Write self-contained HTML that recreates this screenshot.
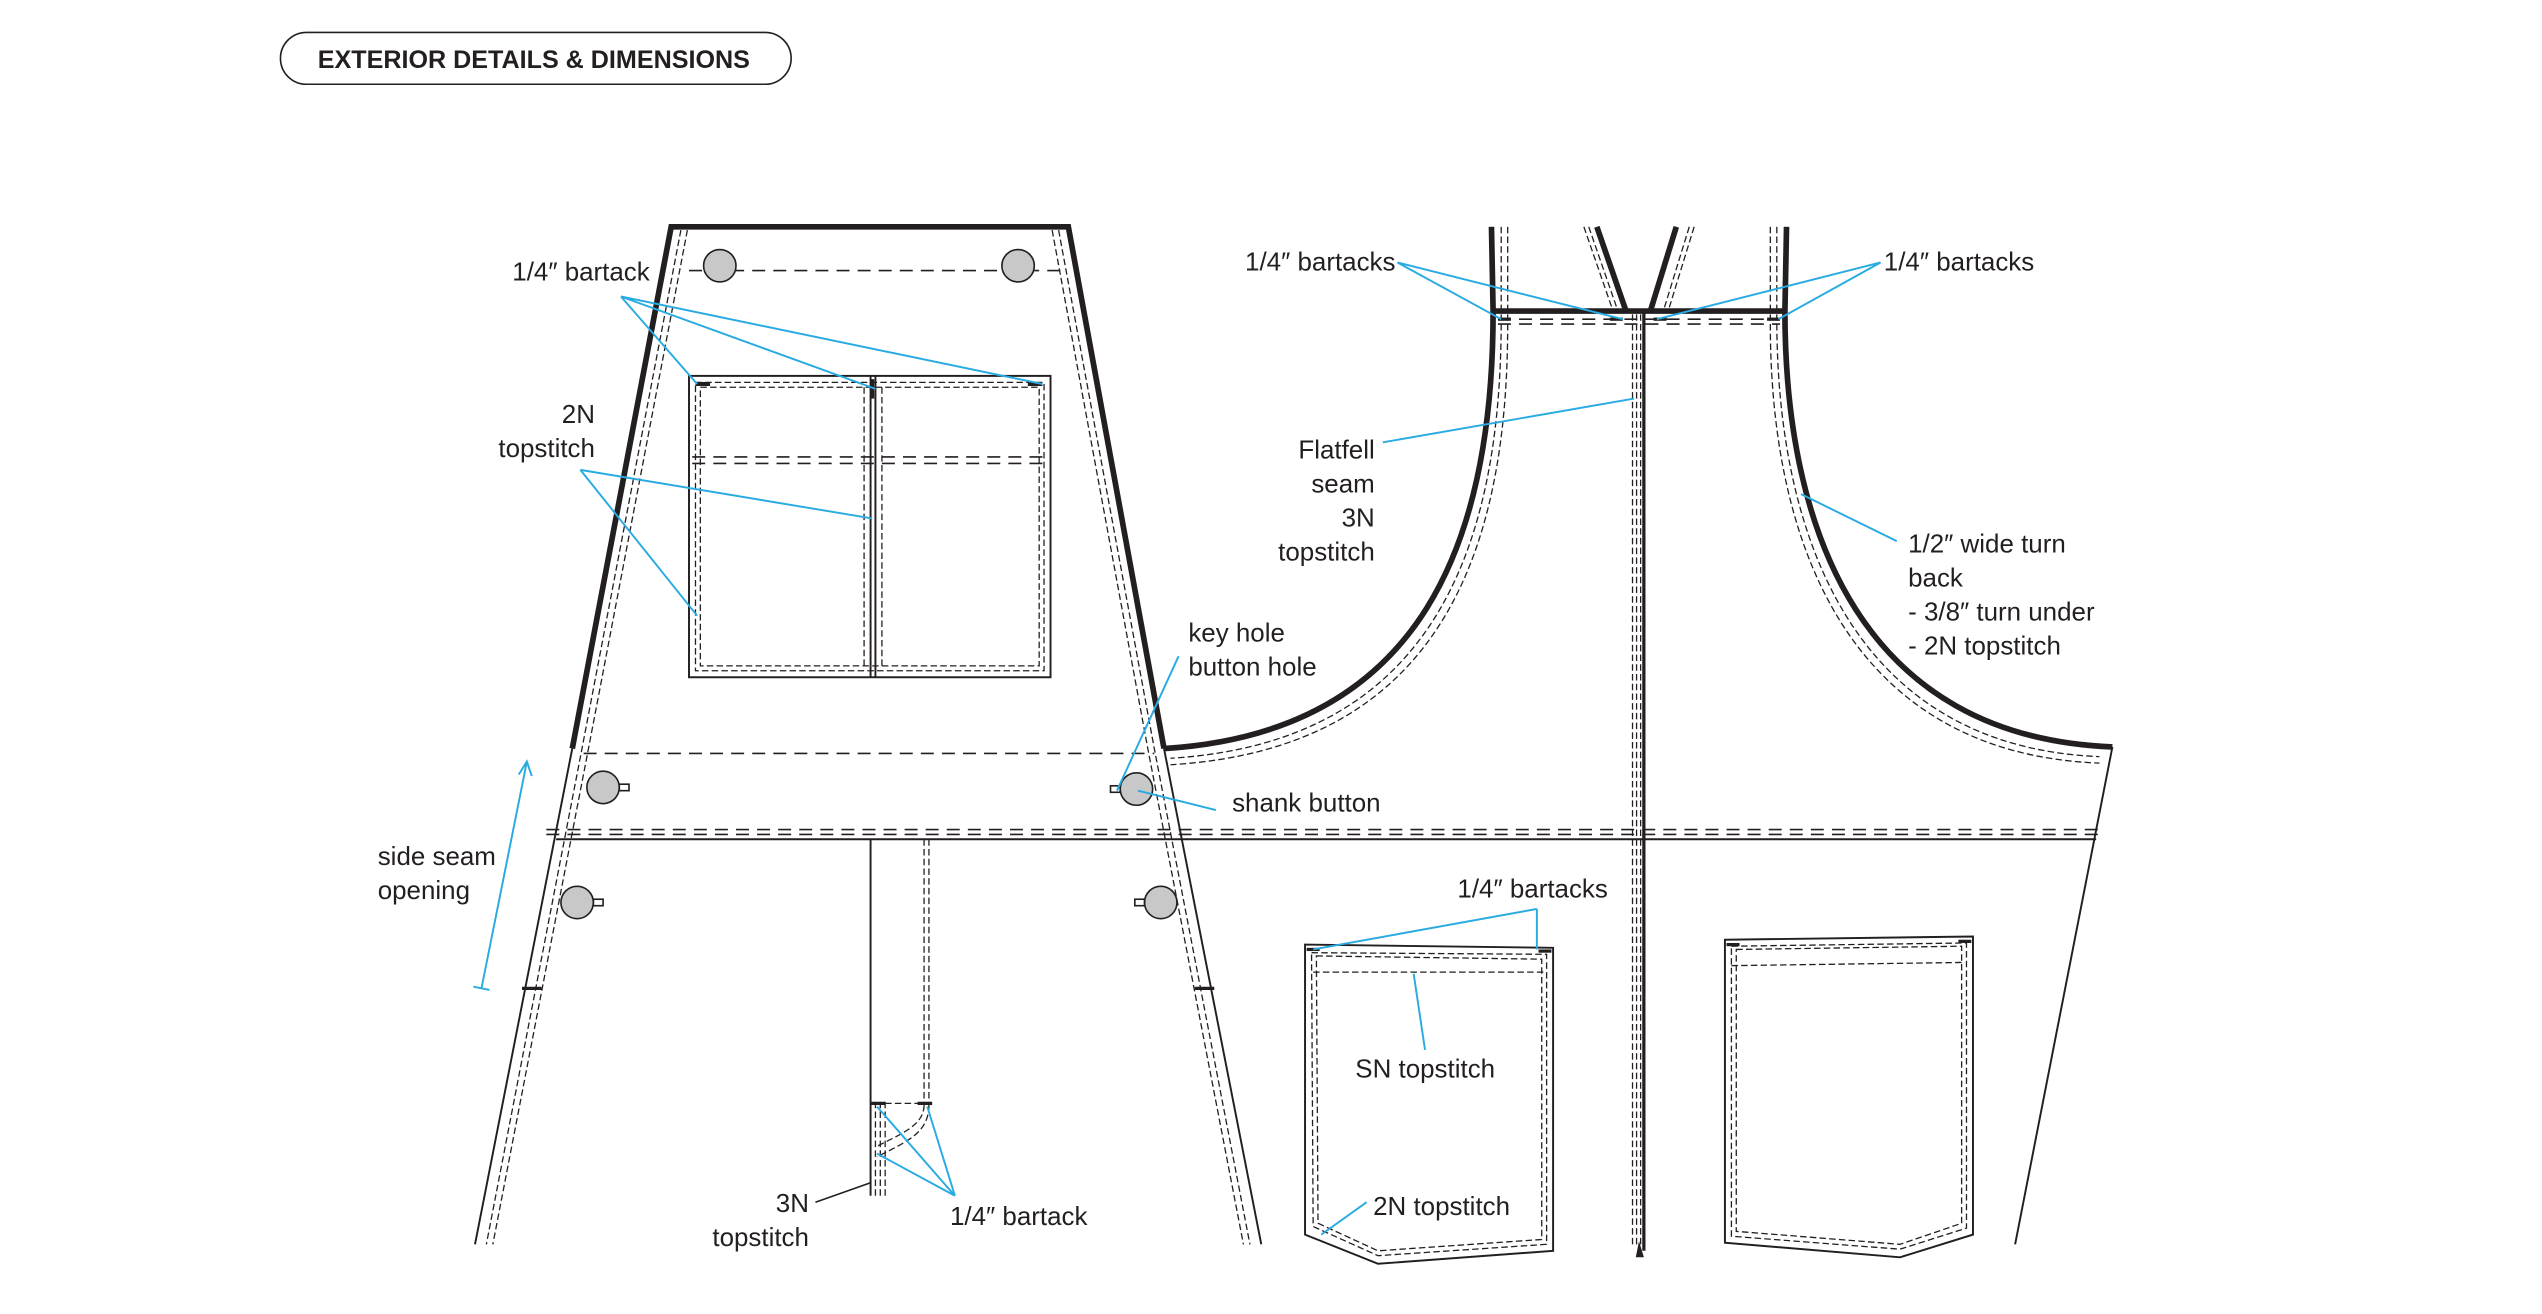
<!DOCTYPE html>
<html><head><meta charset="utf-8"><style>
html,body{margin:0;padding:0;background:#fff;}
svg{display:block;}
text{font-family:"Liberation Sans",sans-serif;font-size:16px;fill:#231f20;}
.k{stroke:#231f20;fill:none;stroke-width:3.5;}
.t{stroke:#231f20;fill:none;stroke-width:1.2;}
.d{stroke:#231f20;fill:none;stroke-width:0.8;stroke-dasharray:4 2;}
.D{stroke:#231f20;fill:none;stroke-width:1;stroke-dasharray:8 5;}
.b{stroke:#29abe2;fill:none;stroke-width:1.2;}
.btn{fill:#c8c8c8;stroke:#231f20;stroke-width:1;}
</style></head><body>
<svg width="2542" height="1314" viewBox="0 0 1568 811" preserveAspectRatio="none" xmlns="http://www.w3.org/2000/svg">
<!-- title -->
<rect x="173" y="20" width="315" height="32" rx="16" fill="none" stroke="#231f20" stroke-width="1"/>
<text x="196" y="42" style="font-weight:bold;font-size:15.5px">EXTERIOR DETAILS &amp;  DIMENSIONS</text>

<!-- FRONT -->
<path class="k" d="M353,462 L414,140 L659,140 L718,462"/>
<path class="t" d="M353,462 L293,768"/>
<path class="t" d="M718,462 L778,768"/>
<path class="d" d="M420,142 L359,462 L300,768"/>
<path class="d" d="M424,142 L363,462 L304,768"/>
<path class="d" d="M653,142 L712,462 L771,768"/>
<path class="d" d="M649,142 L708,462 L767,768"/>
<line class="D" x1="425" y1="167" x2="655" y2="167"/>
<circle class="btn" cx="444" cy="164" r="10"/>
<circle class="btn" cx="628" cy="164" r="10"/>
<!-- bib pocket -->
<rect class="t" x="425" y="232" width="223" height="186"/>
<rect class="d" x="429" y="236" width="215" height="178"/>
<rect class="d" x="432" y="239" width="209" height="172"/>
<line class="t" x1="537" y1="232" x2="537" y2="418"/>
<line class="t" x1="540" y1="232" x2="540" y2="418"/>
<line class="d" x1="533" y1="239" x2="533" y2="411"/>
<line class="d" x1="544" y1="239" x2="544" y2="411"/>
<line class="D" x1="427" y1="282" x2="646" y2="282"/>
<line class="D" x1="427" y1="286" x2="646" y2="286"/>
<line x1="429" y1="237" x2="438" y2="237" stroke="#231f20" stroke-width="2.5"/>
<line x1="634" y1="237" x2="643" y2="237" stroke="#231f20" stroke-width="2.5"/>
<line x1="538" y1="234" x2="538" y2="246" stroke="#231f20" stroke-width="2.5"/>
<!-- waistband -->
<line class="D" x1="360" y1="465" x2="712" y2="465"/>
<line class="D" x1="337" y1="512" x2="1295" y2="512"/>
<line class="D" x1="337" y1="515" x2="1295" y2="515"/>
<line class="t" x1="343" y1="518" x2="1293" y2="518"/>
<circle class="btn" cx="372" cy="486" r="10"/><rect x="382" y="484" width="6" height="4" fill="none" stroke="#231f20" stroke-width="1"/>
<circle class="btn" cx="701" cy="487" r="10"/><rect x="685" y="485" width="6" height="4" fill="none" stroke="#231f20" stroke-width="1"/>
<circle class="btn" cx="356" cy="557" r="10"/><rect x="366" y="555" width="6" height="4" fill="none" stroke="#231f20" stroke-width="1"/>
<circle class="btn" cx="716" cy="557" r="10"/><rect x="700" y="555" width="6" height="4" fill="none" stroke="#231f20" stroke-width="1"/>
<line x1="322" y1="610" x2="334" y2="610" stroke="#231f20" stroke-width="2"/>
<line x1="737" y1="610" x2="749" y2="610" stroke="#231f20" stroke-width="2"/>
<!-- fly -->
<line class="t" x1="537" y1="518" x2="537" y2="738"/>
<line class="d" x1="570" y1="518" x2="570" y2="682"/>
<line class="d" x1="573" y1="518" x2="573" y2="682"/>
<path class="d" d="M570,682 C570,695 555,700 540,708"/>
<path class="d" d="M573,682 C573,700 558,705 541,714"/>
<line class="d" x1="540" y1="680" x2="540" y2="738"/>
<line class="d" x1="543" y1="680" x2="543" y2="738"/>
<line class="d" x1="546" y1="680" x2="546" y2="738"/>
<line class="d" x1="540" y1="681" x2="572" y2="681"/>
<line x1="537" y1="681" x2="546" y2="681" stroke="#231f20" stroke-width="2"/>
<line x1="566" y1="681" x2="575" y2="681" stroke="#231f20" stroke-width="2"/>

<!-- BACK -->
<path class="k" d="M920,140 L921,192 C921,330 880,452 718,462"/>
<path class="d" d="M926,140 L926,197 C926,335 886,458 722,468"/>
<path class="d" d="M930,140 L930,200 C930,338 890,462 722,472"/>
<path class="k" d="M1102,140 L1101,192 C1101,330 1150,455 1303,461"/>
<path class="d" d="M1096,140 L1096,197 C1096,335 1146,461 1295,467"/>
<path class="d" d="M1092,140 L1092,200 C1092,338 1142,465 1295,471"/>
<line class="t" x1="1303" y1="461" x2="1243" y2="768"/>
<line class="k" x1="921" y1="192" x2="1101" y2="192"/>
<line class="k" x1="985" y1="140" x2="1003" y2="192"/>
<line class="k" x1="1034" y1="140" x2="1018" y2="192"/>
<line class="d" x1="977" y1="140" x2="995" y2="192"/>
<line class="d" x1="980" y1="140" x2="998" y2="192"/>
<line class="d" x1="1042" y1="140" x2="1026" y2="192"/>
<line class="d" x1="1045" y1="140" x2="1029" y2="192"/>
<line class="D" x1="924" y1="197" x2="1098" y2="197"/>
<line class="D" x1="924" y1="200" x2="1098" y2="200"/>
<line x1="924" y1="197" x2="932" y2="197" stroke="#231f20" stroke-width="2"/>
<line x1="993" y1="197" x2="1001" y2="197" stroke="#231f20" stroke-width="2"/>
<line x1="1020" y1="197" x2="1028" y2="197" stroke="#231f20" stroke-width="2"/>
<line x1="1090" y1="197" x2="1098" y2="197" stroke="#231f20" stroke-width="2"/>
<!-- center seam -->
<line x1="1014" y1="192" x2="1014" y2="772" stroke="#231f20" stroke-width="2"/>
<line class="d" x1="1007" y1="194" x2="1007" y2="770"/>
<line class="d" x1="1009.5" y1="194" x2="1009.5" y2="770"/>
<line class="d" x1="1012" y1="194" x2="1012" y2="770"/>
<path d="M1009,776 L1011,766 L1014,776 Z" fill="#231f20"/>
<!-- back pockets -->
<path class="t" d="M805,583 L958,585 L958,772 L850,780 L805,762 Z"/>
<path class="d" d="M809,588 L954,589 L954,768 L850,775 L810,757 Z"/>
<path class="d" d="M812,590 L951,592 L951,765 L850,772 L813,755 Z"/>
<line class="d" x1="810" y1="600" x2="952" y2="600"/>
<line x1="806" y1="586" x2="814" y2="586" stroke="#231f20" stroke-width="2"/>
<line x1="949" y1="587" x2="957" y2="587" stroke="#231f20" stroke-width="2"/>
<path class="t" d="M1064,580 L1217,578 L1217,762 L1172,776 L1064,767 Z"/>
<path class="d" d="M1068,584 L1213,582 L1213,758 L1172,771 L1068,763 Z"/>
<path class="d" d="M1071,586 L1210,584 L1210,755 L1172,768 L1071,760 Z"/>
<line class="d" x1="1068" y1="596" x2="1212" y2="594"/>
<line x1="1065" y1="583" x2="1073" y2="583" stroke="#231f20" stroke-width="2"/>
<line x1="1208" y1="581" x2="1216" y2="581" stroke="#231f20" stroke-width="2"/>

<!-- LABELS & LEADERS -->
<text x="316" y="173">1/4″ bartack</text>
<path class="b" d="M383,183 L430,237 M383,183 L540,240 M383,183 L643,237"/>
<text x="367" y="261" text-anchor="end">2N</text>
<text x="367" y="282" text-anchor="end">topstitch</text>
<path class="b" d="M358,290 L430,380 M358,290 L538,320"/>
<text x="733" y="396">key hole</text>
<text x="733" y="417">button hole</text>
<path class="b" d="M727,405 L689,488"/>
<text x="760" y="501">shank button</text>
<path class="b" d="M750,500 L702,488"/>
<text x="233" y="534">side seam</text>
<text x="233" y="555">opening</text>
<path class="b" d="M325,470 L297,610 M320,478 L325,470 L328,479 M292,609 L302,611"/>
<text x="499" y="748" text-anchor="end">3N</text>
<text x="499" y="769" text-anchor="end">topstitch</text>
<path d="M503,742 L537,730" stroke="#231f20" stroke-width="1" fill="none"/>
<text x="586" y="756">1/4″ bartack</text>
<path class="b" d="M589,738 L541,683 M589,738 L572,683 M589,738 L541,712"/>
<text x="768" y="167">1/4″ bartacks</text>
<path class="b" d="M862,162 L926,197 M862,162 L1001,197"/>
<text x="1162" y="167">1/4″ bartacks</text>
<path class="b" d="M1160,162 L1022,197 M1160,162 L1097,197"/>
<text x="848" y="283" text-anchor="end">Flatfell</text>
<text x="848" y="304" text-anchor="end">seam</text>
<text x="848" y="325" text-anchor="end">3N</text>
<text x="848" y="346" text-anchor="end">topstitch</text>
<path class="b" d="M853,273 L1008,246"/>
<text x="1177" y="341">1/2″ wide turn</text>
<text x="1177" y="362">back</text>
<text x="1177" y="383">- 3/8″ turn under</text>
<text x="1177" y="404">- 2N topstitch</text>
<path class="b" d="M1170,334 L1111,305"/>
<text x="899" y="554">1/4″ bartacks</text>
<path class="b" d="M948,561 L810,586 M948,561 L948,586"/>
<text x="836" y="665">SN topstitch</text>
<path class="b" d="M879,648 L872,601"/>
<text x="847" y="750">2N topstitch</text>
<path class="b" d="M843,742 L815,762"/>
</svg>
</body></html>
